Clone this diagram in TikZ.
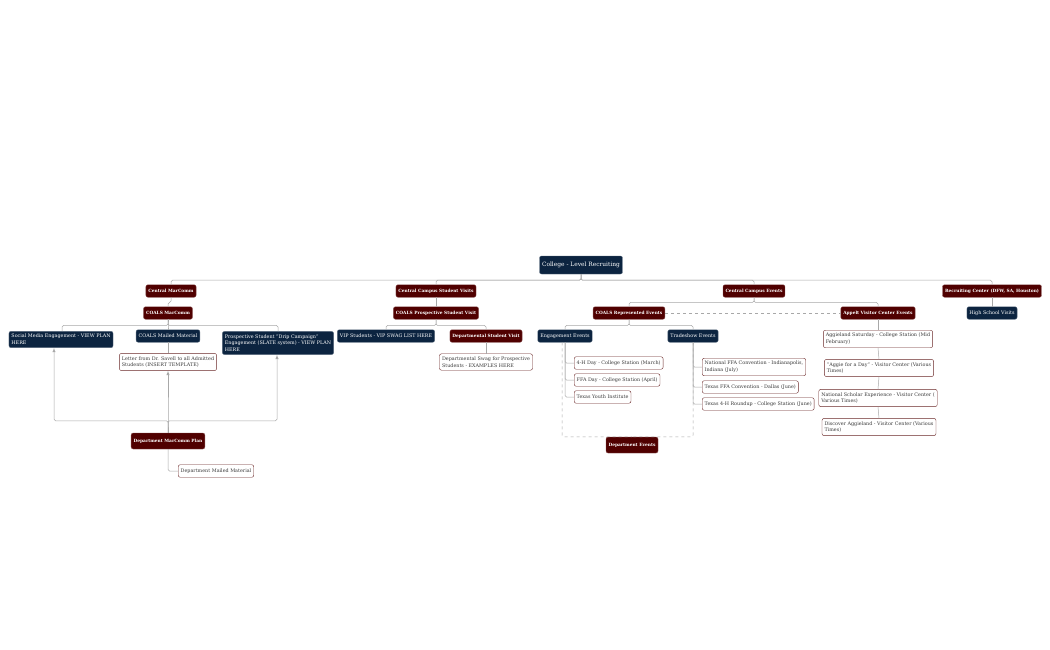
\documentclass[tikz,border=0pt]{standalone}
\usepackage{fontspec}
\setmainfont{DejaVu Serif}
\usepackage{tikz}
\definecolor{navy}{HTML}{0C2440}
\definecolor{maroon}{HTML}{500000}
\definecolor{wire}{HTML}{A8A8A8}
\definecolor{leaftext}{HTML}{3A3A3A}

\begin{document}
\begin{tikzpicture}[>=latex, x=1pt, y=-1pt,
  navybox/.style={draw=navy!70!white, fill=navy, text=white, rounded corners=2, inner xsep=2.5, inner ysep=3, minimum height=12.5, align=left, font=\fontsize{4.85}{6.7}\selectfont},
  redbox/.style={draw=maroon!70!white, fill=maroon, text=white, rounded corners=2, inner xsep=2.5, inner ysep=3, minimum height=12.5, font=\fontsize{4.35}{6.5}\selectfont\bfseries},
  leafbox/.style={draw=maroon!85!white, fill=white, text=leaftext, rounded corners=2, inner xsep=2.5, inner ysep=3, minimum height=12.5, align=left, font=\fontsize{4.85}{6.7}\selectfont},
  link/.style={draw=wire, line width=.5, rounded corners=1.5}]
  \useasboundingbox (0,0) rectangle (1050,650);

  \node (n1) at (581,265) [navybox, minimum height=18, font=\fontsize{5.9}{7}\selectfont] {College - Level Recruiting} ;

  \node (n2) at (171,291) [redbox] {Central MarComm} ;
  \node (n3) at (436,291) [redbox] {Central Campus Student Visits} ;
  \node (n4) at (754,291) [redbox] {Central Campus Events} ;
  \node (n5) at (992,291) [redbox] {Recruiting Center (DFW, SA, Houston)} ;

  \node (n6) at (168,313) [redbox] {COALS MarComm} ;
  \node (n7) at (436,313) [redbox] {COALS Prospective Student Visit} ;
  \node (n8) at (629,313) [redbox] {COALS Represented Events} ;
  \node (n9) at (878,313) [redbox] {Appelt Visitor Center Events} ;
  \node (n10) at (992,313) [navybox] {High School Visits} ;

  \node (n11) at (61,339.5) [navybox] {Social Media Engagement - VIEW PLAN\\HERE} ;
  \node (n12) at (168,336) [navybox] {COALS Mailed Material} ;
  \node (n13) at (278,343) [navybox] {Prospective Student "Drip Campaign"\\Engagement (SLATE system) - VIEW PLAN\\HERE} ;
  \node (n14) at (168,362) [leafbox] {Letter from Dr. Savell to all Admitted\\Students (INSERT TEMPLATE)} ;
  \node (n15) at (168,441) [redbox, minimum height=16] {Department MarComm Plan} ;
  \node (n16) at (178,471) [leafbox, anchor=west] {Department Mailed Material} ;

  \node (n17) at (386,336) [navybox] {VIP Students - VIP SWAG LIST HERE} ;
  \node (n18) at (486,336) [redbox] {Departmental Student Visit} ;
  \node (n19) at (486,362) [leafbox] {Departmental Swag for Prospective\\Students - EXAMPLES HERE} ;

  \node (n20) at (565,336) [navybox] {Engagement Events} ;
  \node (n21) at (693,336) [navybox] {Tradeshow Events} ;
  \node (n22) at (574,363) [leafbox, anchor=west] {4-H Day - College Station (March)} ;
  \node (n23) at (574,380) [leafbox, anchor=west] {FFA Day - College Station (April)} ;
  \node (n24) at (574,397) [leafbox, anchor=west] {Texas Youth Institute} ;
  \node (n25) at (702,367) [leafbox, anchor=west] {National FFA Convention - Indianapolis,\\Indiana (July)} ;
  \node (n26) at (702,387) [leafbox, anchor=west] {Texas FFA Convention - Dallas (June)} ;
  \node (n27) at (702,404) [leafbox, anchor=west] {Texas 4-H Roundup - College Station (June)} ;
  \node (n28) at (632,445) [redbox, minimum height=16] {Department Events} ;

  \node (n29) at (878,339) [leafbox] {Aggieland Saturday - College Station (Mid\\February)} ;
  \node (n30) at (879,368) [leafbox] {"Aggie for a Day" - Visitor Center (Various\\Times)} ;
  \node (n31) at (878,398) [leafbox] {National Scholar Experience - Visitor Center (\\Various Times)} ;
  \node (n32) at (879,427) [leafbox] {Discover Aggieland - Visitor Center (Various\\Times)} ;

  \draw [link] (n1.south) -- ++(0,6) -| (n2.north);
  \draw [link] (n1.south) -- ++(0,6) -| (n3.north);
  \draw [link] (n1.south) -- ++(0,6) -| (n4.north);
  \draw [link] (n1.south) -- ++(0,6) -| (n5.north);

  \draw [link] (n2.south) -- ++(0,5) -| (n6.north);
  \draw [link] (n3.south) -- (n7.north);
  \draw [link] (n4.south) -- ++(0,5) -| (n8.north);
  \draw [link] (n4.south) -- ++(0,5) -| (n9.north);
  \draw [link] (n5.south) -- (n10.north);
  \draw [link, dashed] (n8.east) -- (n9.west);

  \draw [link] (n6.south) -- ++(0,6) -| ([xshift=1]n11.north);
  \draw [link] (n6.south) -- ++(0,6) -| (n12.north);
  \draw [link] (n6.south) -- ++(0,6) -| (n13.north);
  \draw [link] (n12.south) -- (n14.north);

  \draw [link, ->] (n15.north) -- ++(0,-12) -| ([xshift=-7]n11.south);
  \draw [link, ->] (n15.north) -- ++(0,-12) -| (n14.south);
  \draw [link, ->] (n15.north) -- ++(0,-12) -| ([xshift=-1]n13.south);
  \draw [link] (n15.south) |- (n16.west);

  \draw [link] (n7.south) -- ++(0,6) -| (n17.north);
  \draw [link] (n7.south) -- ++(0,6) -| (n18.north);
  \draw [link] (n18.south) -- (n19.north);

  \draw [link] (n8.south) -- ++(0,6) -| (n20.north);
  \draw [link] (n8.south) -- ++(0,6) -| (n21.north);
  \draw [link] (n20.south) |- (n22.west);
  \draw [link] (n20.south) |- (n23.west);
  \draw [link] (n20.south) |- (n24.west);
  \draw [link] (n21.south) |- (n25.west);
  \draw [link] (n21.south) |- (n26.west);
  \draw [link] (n21.south) |- (n27.west);
  \draw [link, dashed] ([xshift=-3]n20.south) |- (n28.north);
  \draw [link, dashed] (n21.south) |- (n28.north);

  \draw [link] (n9.south) -- (n29.north);
  \draw [link] (n29.south) -- (n30.north);
  \draw [link] (n30.south) -- (n31.north);
  \draw [link] (n31.south) -- (n32.north);
\end{tikzpicture}
\end{document}
